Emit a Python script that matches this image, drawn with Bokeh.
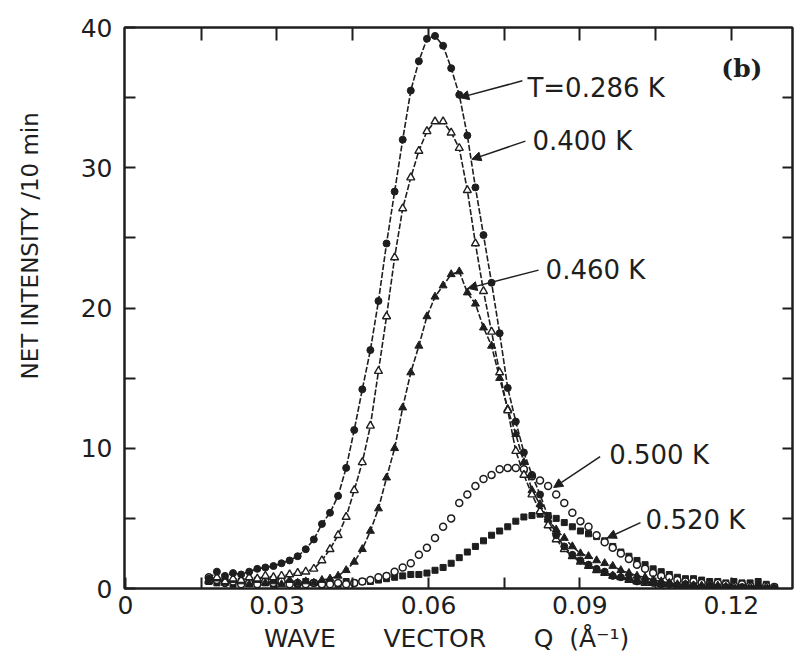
from bokeh.plotting import figure
from bokeh.models import (ColumnDataSource, Range1d, LinearAxis, FixedTicker,
                          Label, Arrow, NormalHead, Title)
from bokeh.embed import file_html
from bokeh.resources import INLINE

# ---------------- data ----------------
Q = [0.0165, 0.0181, 0.0197, 0.0213, 0.0229, 0.0245, 0.0261, 0.0277, 0.0293, 0.0309,
     0.0325, 0.0341, 0.0357, 0.0373, 0.0389, 0.0405, 0.0421, 0.0437, 0.0453, 0.0469,
     0.0485, 0.0501, 0.0517, 0.0533, 0.0549, 0.0565, 0.0581, 0.0597, 0.0613, 0.0629,
     0.0645, 0.0661, 0.0677, 0.0693, 0.0709, 0.0725, 0.0741, 0.0757, 0.0773, 0.0789,
     0.0805, 0.0821, 0.0837, 0.0853, 0.0869, 0.0885, 0.0901, 0.0917, 0.0933, 0.0949,
     0.0965, 0.0981, 0.0997, 0.1013, 0.1029, 0.1045, 0.1061, 0.1077, 0.1093, 0.1109,
     0.1125, 0.1141, 0.1157, 0.1173, 0.1189, 0.1205, 0.1221, 0.1237, 0.1253, 0.1269, 0.1285]

I_0286 = [0.7, 1.2, 0.9, 1.1, 1.0, 1.2, 1.4, 1.5, 1.6, 1.8,
          2.0, 2.3, 2.8, 3.5, 4.6, 5.4, 6.6, 8.6, 11.3, 14.2,
          17.0, 20.5, 24.6, 28.3, 32.0, 35.5, 37.6, 39.2, 39.4, 38.7,
          37.1, 35.2, 32.3, 28.6, 25.2, 21.8, 18.2, 14.3, 11.9, 9.7,
          8.1, 6.7, 5.1, 3.8, 3.0, 2.4, 2.0, 1.7, 1.4, 1.2,
          0.9, 0.8, 0.7, 0.5, 0.5, 0.4, 0.3, 0.3, 0.2, 0.3,
          0.2, 0.1, 0.2, 0.1, 0.1, 0.0, 0.1, 0.0, 0.1, 0.0, 0.0]

I_0400 = [0.6, 0.8, 0.5, 0.7, 0.6, 0.8, 0.7, 0.9, 0.8, 0.9,
          1.0, 1.1, 1.2, 1.4, 2.0, 2.8, 3.8, 5.1, 7.0, 9.0,
          11.6, 15.5, 19.4, 23.6, 27.1, 29.3, 31.2, 32.6, 33.3, 33.3,
          32.5, 31.4, 28.4, 24.6, 21.2, 18.3, 15.4, 12.7, 9.8, 8.1,
          6.7, 5.5, 4.5, 3.5, 2.8, 2.3, 1.9, 1.6, 1.3, 1.1,
          0.9, 0.8, 0.6, 0.5, 0.4, 0.4, 0.3, 0.3, 0.2, 0.2,
          0.2, 0.1, 0.2, 0.1, 0.1, 0.1, 0.0, 0.1, 0.0, 0.1, 0.0]

I_0460 = [0.5, 0.7, 0.4, 0.6, 0.5, 0.3, 0.6, 0.4, 0.5, 0.3,
          0.6, 0.4, 0.5, 0.4, 0.6, 0.7, 0.9, 1.3, 1.9, 2.8,
          4.1, 5.7, 7.9, 10.0, 12.9, 15.4, 17.3, 19.4, 20.8, 21.6,
          22.4, 22.6, 21.1, 20.3, 18.6, 17.3, 15.0, 12.8, 11.0, 9.0,
          7.0, 6.0, 4.9, 4.2, 3.6, 3.0, 2.5, 2.3, 2.0, 1.8,
          1.6, 1.3, 1.1, 0.9, 0.8, 0.6, 0.5, 0.4, 0.3, 0.3,
          0.2, 0.2, 0.1, 0.2, 0.1, 0.1, 0.0, 0.1, 0.0, 0.0, 0.0]

I_0500 = [0.8, 0.6, 0.4, 0.5, 0.3, 0.4, 0.3, 0.5, 0.4, 0.5,
          0.3, 0.4, 0.3, 0.4, 0.3, 0.3, 0.4, 0.3, 0.4, 0.5,
          0.6, 0.8, 0.9, 1.2, 1.5, 1.8, 2.4, 2.9, 3.6, 4.4,
          5.0, 6.1, 6.7, 7.3, 7.8, 8.1, 8.5, 8.6, 8.6, 8.5,
          8.0, 7.7, 7.3, 6.7, 6.1, 5.4, 4.8, 4.4, 3.8, 3.3,
          2.9, 2.5, 2.1, 1.7, 1.4, 1.1, 0.9, 0.8, 0.6, 0.5,
          0.5, 0.4, 0.3, 0.4, 0.3, 0.2, 0.3, 0.2, 0.1, 0.2, 0.1]

I_0520 = [0.5, 0.4, 0.6, 0.3, 0.5, 0.4, 0.6, 0.4, 0.3, 0.5,
          0.4, 0.3, 0.5, 0.4, 0.3, 0.4, 0.3, 0.5, 0.4, 0.5,
          0.5, 0.6, 0.7, 0.8, 0.9, 1.0, 1.0, 1.1, 1.3, 1.5,
          1.8, 2.2, 2.6, 3.0, 3.4, 3.8, 4.1, 4.4, 4.8, 5.1,
          5.2, 5.3, 5.2, 5.0, 4.7, 4.4, 4.1, 3.9, 3.7, 3.4,
          3.0, 2.6, 2.3, 2.0, 1.7, 1.4, 1.2, 1.0, 0.8, 0.7,
          0.7, 0.6, 0.5, 0.5, 0.4, 0.5, 0.4, 0.4, 0.5, 0.3, 0.1]

SERIES_LABELS = ["T=0.286 K", "0.400 K", "0.460 K", "0.500 K", "0.520 K"]

X_MAJOR = [0, 0.03, 0.06, 0.09, 0.12]
X_MAJOR_LABELS = ["0", "0.03", "0.06", "0.09", "0.12"]
X_MINOR = [0.015, 0.045, 0.075, 0.105]
X_TOP = [0.015, 0.03, 0.045, 0.06, 0.075, 0.09, 0.105, 0.12]
Y_MAJOR = [0, 10, 20, 30, 40]
Y_MAJOR_LABELS = ["0", "10", "20", "30", "40"]
Y_MINOR = [5, 15, 25, 35]
Y_RIGHT = [5, 10, 15, 20, 25, 30, 35]

NB = "\u00a0"
X_TITLE = "WAVE" + NB * 6 + "VECTOR" + NB * 6 + "Q" + NB * 2 + "(\u00c5\u207b\u00b9)"
Y_TITLE = "NET INTENSITY /10 min"
PANEL = "(b)"

# annotation anchors (data units): text position, arrow tail, arrow head
ANN_TEXT_XY = [(0.0796, 35.7), (0.0806, 31.9), (0.0832, 22.7), (0.0958, 9.5), (0.1030, 4.9)]
ANN_TAIL_XY = [(0.0786, 36.2), (0.0792, 31.9), (0.0818, 22.7), (0.0940, 9.4), (0.1020, 4.7)]
ANN_HEAD_XY = [(0.0662, 35.0), (0.0686, 30.6), (0.0678, 21.4), (0.0848, 7.2), (0.0954, 3.6)]

FONT = "DejaVu Sans"
INK = "#1e1e1e"

p = figure(width=794, height=660,
           x_range=Range1d(-0.0002, 0.1321), y_range=Range1d(0, 40),
           output_backend="svg", toolbar_location=None,
           x_axis_location=None, y_axis_location=None,
           min_border_left=124, min_border_right=2,
           min_border_top=27, min_border_bottom=72)
p.grid.visible = False
p.outline_line_color = INK
p.outline_line_width = 2
p.background_fill_color = "white"
p.border_fill_color = "white"


def style_axis(ax, labels=True):
    ax.axis_line_color = INK
    ax.axis_line_width = 2
    ax.major_tick_in = 11
    ax.major_tick_out = 0
    ax.minor_tick_in = 11
    ax.minor_tick_out = 0
    ax.major_tick_line_color = INK
    ax.minor_tick_line_color = INK
    ax.major_tick_line_width = 2
    ax.minor_tick_line_width = 2
    ax.major_label_text_font = FONT
    ax.major_label_text_color = INK
    if labels:
        ax.major_label_text_font_size = "25px"
    else:
        ax.major_label_text_font_size = "1px"
        ax.major_label_standoff = 0


xb = LinearAxis(ticker=FixedTicker(ticks=X_MAJOR, minor_ticks=X_MINOR),
                major_label_overrides={v: s for v, s in zip(X_MAJOR, X_MAJOR_LABELS)})
style_axis(xb)
xb.major_label_standoff = 7
p.add_layout(xb, "below")

# the y title is the left axis label; leading spaces lift it above the centre,
# where it sits in the original figure
yl = LinearAxis(ticker=FixedTicker(ticks=Y_MAJOR, minor_ticks=Y_MINOR),
                major_label_overrides={v: s for v, s in zip(Y_MAJOR, Y_MAJOR_LABELS)},
                axis_label=NB * 17 + Y_TITLE)
style_axis(yl)
yl.major_label_standoff = 12
yl.axis_label_standoff = 35
yl.axis_label_text_font = FONT
yl.axis_label_text_font_size = "23px"
yl.axis_label_text_font_style = "normal"
yl.axis_label_text_color = INK
p.add_layout(yl, "left")

xt = LinearAxis(ticker=FixedTicker(ticks=X_TOP),
                major_label_overrides={v: "" for v in X_TOP})
style_axis(xt, labels=False)
xt.major_tick_in = 13
p.add_layout(xt, "above")

yr = LinearAxis(ticker=FixedTicker(ticks=Y_RIGHT),
                major_label_overrides={v: "" for v in Y_RIGHT})
style_axis(yr, labels=False)
yr.major_tick_in = 10
p.add_layout(yr, "right")

# x title below the bottom axis
p.add_layout(Title(text=X_TITLE + NB * 3, align="center", text_font=FONT,
                   text_font_size="25px", text_font_style="normal",
                   text_color=INK, standoff=12, vertical_align="middle"), "below")

src = ColumnDataSource(dict(q=Q, i286=I_0286, i400=I_0400, i460=I_0460,
                            i500=I_0500, i520=I_0520))

# connecting lines
for col in ["i286", "i400", "i460"]:
    p.line("q", col, source=src, line_color=INK, line_width=1.6, line_dash="6 2")

# markers
p.scatter("q", "i520", source=src, marker="square", size=6,
          fill_color=INK, line_color=INK)
p.scatter("q", "i500", source=src, marker="circle", size=7,
          fill_color="white", line_color=INK, line_width=1.5)
p.scatter("q", "i460", source=src, marker="triangle", size=8,
          fill_color=INK, line_color=INK)
p.scatter("q", "i400", source=src, marker="triangle", size=8,
          fill_color="white", line_color=INK, line_width=1.4)
p.scatter("q", "i286", source=src, marker="circle", size=7,
          fill_color=INK, line_color=INK)

# annotations
for txt, (tx, ty), (ax0, ay0), (hx, hy) in zip(SERIES_LABELS, ANN_TEXT_XY, ANN_TAIL_XY, ANN_HEAD_XY):
    p.add_layout(Label(x=tx, y=ty, text=txt, text_font=FONT, text_font_size="26px",
                       text_color=INK, text_baseline="middle", text_align="left"))
    p.add_layout(Arrow(end=NormalHead(size=9, fill_color=INK, line_color=INK),
                       x_start=ax0, y_start=ay0, x_end=hx, y_end=hy,
                       line_color=INK, line_width=1.5))

p.add_layout(Label(x=0.1180, y=37.1, text=PANEL, text_font="DejaVu Serif",
                   text_font_size="25px", text_font_style="bold", text_color=INK,
                   text_baseline="middle", text_align="left"))

open("out.html", "w").write(file_html(p, INLINE))
